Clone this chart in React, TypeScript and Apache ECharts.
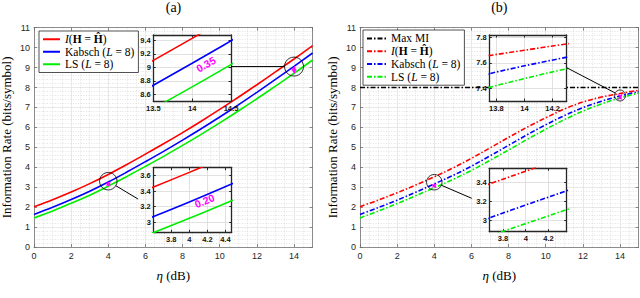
import { useEffect, useRef } from 'react';
import * as echarts from 'echarts';

// ---------- data ----------
const snrDb = [0, 1, 2, 3, 4, 5, 6, 7, 8, 9, 10, 11, 12, 13, 14, 15];

// (a)
const idealA = [2.02, 2.37, 2.755, 3.18, 3.64, 4.14, 4.66, 5.19, 5.74, 6.31, 6.9, 7.51, 8.14, 8.78, 9.43, 10.1];
const kabschA = [1.63, 1.99, 2.38, 2.8, 3.26, 3.76, 4.28, 4.81, 5.36, 5.93, 6.52, 7.13, 7.76, 8.41, 9.06, 9.73];
const lsA = [1.46, 1.81, 2.19, 2.6, 3.05, 3.54, 4.045, 4.56, 5.095, 5.65, 6.225, 6.82, 7.435, 8.07, 8.71, 9.38];

// (b)
const idealB = [2.02, 2.36, 2.72, 3.11, 3.52, 3.96, 4.45, 4.97, 5.5, 6.01, 6.48, 6.92, 7.27, 7.52, 7.7, 7.86];
const kabschB = [1.63, 1.98, 2.35, 2.745, 3.165, 3.585, 4.055, 4.57, 5.1, 5.63, 6.13, 6.59, 6.99, 7.31, 7.577, 7.79];
const lsB = [1.46, 1.81, 2.18, 2.57, 2.97, 3.385, 3.845, 4.345, 4.865, 5.395, 5.905, 6.385, 6.815, 7.175, 7.477, 7.72];
const maxMI = 8;

// annotations
const gapIdx = [4, 14]; // indexes into snrDb where the gap arrows are drawn
const gapLabelsA = ['0.20', '0.35'];
const gapLabelPosA = [[4.17, 3.27], [14.18, 9.04]];
const gapLabelRot = [22, 30];
const zoomCentersA = [[4, 3.3], [14, 9.05]];
const zoomCentersB = [[4, 3.25], [14, 7.6]];

// ---------- styles / layout ----------
const SANS = '"Liberation Sans", Arial, Helvetica, sans-serif';
const SERIF = '"Liberation Serif", "Times New Roman", serif';
const RED = '#ff0000';
const BLUE = '#0000ff';
const GREEN = '#00ee00';
const MAG = '#ff00ff';
const DASHDOT = [5, 2, 1.5, 2];

const grids = [
  { left: 34, top: 27.7, width: 278.6, height: 219.3 }, // main a
  { left: 360, top: 27.7, width: 278.6, height: 219.3 }, // main b
  { left: 153.3, top: 35, width: 77.7, height: 66 }, // inset a top
  { left: 153.3, top: 167.7, width: 78.4, height: 64.6 }, // inset a bottom
  { left: 489.3, top: 35, width: 77.4, height: 66 }, // inset b top
  { left: 489.3, top: 168.3, width: 77.4, height: 63.4 }, // inset b bottom
];

type AxisSpec = {
  min: number;
  max: number;
  interval?: number;
  splitNumber?: number;
  showMin: boolean;
  showMax: boolean;
  minor?: number;
};

const xSpecs: AxisSpec[] = [
  { min: 0, max: 15, interval: 2, showMin: true, showMax: false, minor: 4 },
  { min: 0, max: 15, interval: 2, showMin: true, showMax: false, minor: 4 },
  { min: 13.5, max: 14.5, interval: 0.5, showMin: true, showMax: true },
  { min: 3.6, max: 4.47, splitNumber: 5, showMin: false, showMax: false },
  { min: 13.75, max: 14.3, splitNumber: 3, showMin: false, showMax: false },
  { min: 3.68, max: 4.36, splitNumber: 3, showMin: false, showMax: false },
];
const ySpecs: AxisSpec[] = [
  { min: 0, max: 11, interval: 1, showMin: true, showMax: true, minor: 5 },
  { min: 0, max: 11, interval: 1, showMin: true, showMax: true, minor: 5 },
  { min: 8.5, max: 9.48, splitNumber: 5, showMin: false, showMax: false },
  { min: 2.87, max: 3.7, splitNumber: 4, showMin: false, showMax: false },
  { min: 7.3, max: 7.82, splitNumber: 3, showMin: false, showMax: false },
  { min: 2.885, max: 3.55, splitNumber: 3, showMin: false, showMax: false },
];

function axisPair(dim: 'x' | 'y', gi: number, s: AxisSpec, main: boolean, name?: any) {
  const boxColor = main ? '#6e6e6e' : '#262626';
  const common: any = {
    type: 'value',
    gridIndex: gi,
    min: s.min,
    max: s.max,
    interval: s.interval,
    splitNumber: s.splitNumber,
    silent: true,
    z: main ? 1 : 11,
    axisLine: { show: true, onZero: false, lineStyle: { color: boxColor, width: main ? 0.8 : 1.3 } },
    axisTick: { show: true, inside: true, length: main ? 3 : 2.5, lineStyle: { color: boxColor, width: main ? 0.8 : 1 } },
    axisPointer: { show: false },
  };
  const primary: any = {
    ...common,
    position: dim === 'x' ? 'bottom' : 'left',
    axisLabel: {
      show: true,
      margin: main ? 4 : dim === 'x' ? 3 : 2.5,
      fontFamily: SANS,
      fontSize: main ? 9 : 7.5,
      fontWeight: main ? 'normal' : 'bold',
      color: main ? '#262626' : '#111',
      showMinLabel: s.showMin,
      showMaxLabel: s.showMax,
    },
    splitLine: {
      show: true,
      showMinLine: false,
      showMaxLine: false,
      lineStyle: { color: main ? '#e2e2e2' : '#d9d9d9', width: 0.8 },
    },
    minorTick: { show: false, splitNumber: s.minor ?? 5 },
    minorSplitLine: { show: main && !!s.minor, lineStyle: { color: '#cfcfcf', width: 0.6, type: [1, 1.6] } },
  };
  if (name) Object.assign(primary, name);
  const mirror: any = {
    ...common,
    z: main ? 1 : 12,
    position: dim === 'x' ? 'top' : 'right',
    axisLabel: { show: false },
    splitLine: { show: false },
  };
  return [primary, mirror];
}

const xName = {
  name: '{i|η} (dB)',
  nameLocation: 'middle',
  nameGap: 22,
  nameTextStyle: {
    fontFamily: SERIF,
    fontSize: 13,
    color: '#000',
    rich: { i: { fontFamily: SERIF, fontSize: 13, fontStyle: 'italic', color: '#000' } },
  },
};
const yName = {
  name: 'Information Rate (bits/symbol)',
  nameLocation: 'middle',
  nameGap: 21,
  nameTextStyle: { fontFamily: SERIF, fontSize: 13, color: '#000' },
};

const pts = (ys: number[]) => snrDb.map((x, i) => [x, ys[i]]);

function curve(name: string, gi: number, ys: number[], color: string, dashed: boolean, z: number, extra: any = {}) {
  return {
    name,
    type: 'line',
    xAxisIndex: gi * 2,
    yAxisIndex: gi * 2,
    data: pts(ys),
    smooth: 0.35,
    symbol: 'none',
    showSymbol: false,
    clip: true,
    silent: true,
    z,
    emphasis: { disabled: true },
    itemStyle: { color },
    lineStyle: { color, width: 1.6, type: dashed ? DASHDOT : 'solid' },
    ...extra,
  };
}

function gapArrow(x: number, top: number, bottom: number, dashed: boolean, small: boolean) {
  return {
    silent: true,
    symbol: ['arrow', 'arrow'],
    symbolSize: small ? [4, 4] : [6, 7],
    label: { show: false },
    emphasis: { disabled: true },
    lineStyle: { color: MAG, width: small ? 1.4 : 1.6, type: dashed ? [2.5, 1.5] : 'solid', opacity: 1 },
    data: [[{ coord: [x, top] }, { coord: [x, bottom] }]],
  };
}

const legendText: Record<string, string> = {
  a_ideal: '{i|I}{n|(}{b|H}{n| = }{b|Ĥ}{n|)}',
  a_kabsch: '{n|Kabsch (}{i|L}{n| = 8)}',
  a_ls: '{n|LS (}{i|L}{n| = 8)}',
  b_max: '{n|Max MI}',
  b_ideal: '{i|I}{n|(}{b|H}{n| = }{b|Ĥ}{n|)}',
  b_kabsch: '{n|Kabsch (}{i|L}{n| = 8)}',
  b_ls: '{n|LS (}{i|L}{n| = 8)}',
};

function legendRich(lh: number) {
  const base = { fontFamily: SERIF, fontSize: 11.5, color: '#000', lineHeight: lh };
  return {
    n: { ...base },
    i: { ...base, fontStyle: 'italic' },
    b: { ...base, fontWeight: 'bold' },
  };
}

function legendBase(lh: number) {
  return {
    orient: 'vertical',
    itemHeight: 10,
    itemGap: 0,
    padding: [2, 4, 2, 3],
    backgroundColor: '#fff',
    borderColor: '#262626',
    borderWidth: 0.8,
    selectedMode: false,
    z: 20,
    itemStyle: { opacity: 0 },
    formatter: (n: string) => legendText[n],
    textStyle: { fontFamily: SERIF, fontSize: 11.5, color: '#000', lineHeight: lh, rich: legendRich(lh) },
  };
}

function buildOption(): any {
  const xAxis: any[] = [];
  const yAxis: any[] = [];
  for (let g = 0; g < 6; g++) {
    const main = g < 2;
    xAxis.push(...axisPair('x', g, xSpecs[g], main, main ? xName : undefined));
    yAxis.push(...axisPair('y', g, ySpecs[g], main, main ? yName : undefined));
  }

  const series: any[] = [];
  series.push(curve('a_ideal', 0, idealA, RED, false, 3));
  series.push(
    curve('a_kabsch', 0, kabschA, BLUE, false, 3, {
      markLine: gapArrow(snrDb[gapIdx[0]], kabschA[gapIdx[0]], lsA[gapIdx[0]], false, true),
    })
  );
  series.push(
    curve('a_ls', 0, lsA, GREEN, false, 3, {
      markLine: gapArrow(snrDb[gapIdx[1]], kabschA[gapIdx[1]], lsA[gapIdx[1]], false, true),
    })
  );
  series.push({
    name: 'b_max',
    type: 'line',
    xAxisIndex: 2,
    yAxisIndex: 2,
    data: [
      [snrDb[0], maxMI],
      [snrDb[snrDb.length - 1], maxMI],
    ],
    symbol: 'none',
    silent: true,
    z: 3,
    itemStyle: { color: '#000' },
    lineStyle: { color: '#000', width: 1.3, type: DASHDOT },
  });
  series.push(curve('b_ideal', 1, idealB, RED, true, 3));
  series.push(
    curve('b_kabsch', 1, kabschB, BLUE, true, 3, {
      markLine: gapArrow(snrDb[gapIdx[0]], kabschB[gapIdx[0]], lsB[gapIdx[0]], true, true),
    })
  );
  series.push(
    curve('b_ls', 1, lsB, GREEN, true, 3, {
      markLine: gapArrow(snrDb[gapIdx[1]], kabschB[gapIdx[1]], lsB[gapIdx[1]], true, true),
    })
  );

  const insetDefs = [
    { g: 2, sets: [idealA, kabschA, lsA], dashed: false, gi: 1 },
    { g: 3, sets: [idealA, kabschA, lsA], dashed: false, gi: 0 },
    { g: 4, sets: [idealB, kabschB, lsB], dashed: true, gi: 1 },
    { g: 5, sets: [idealB, kabschB, lsB], dashed: true, gi: 0 },
  ];
  insetDefs.forEach((d) => {
    const [ide, kab, ls] = d.sets;
    const k = gapIdx[d.gi];
    series.push(curve('inset' + d.g + '_ideal', d.g, ide, RED, d.dashed, 13));
    series.push(
      curve('inset' + d.g + '_kabsch', d.g, kab, BLUE, d.dashed, 13, {
        markLine: gapArrow(snrDb[k], kab[k], ls[k], d.dashed, false),
      })
    );
    series.push(curve('inset' + d.g + '_ls', d.g, ls, GREEN, d.dashed, 13));
  });

  const circleSizes = [[17.5, 19], [15.5, 11]];
  [zoomCentersA, zoomCentersB].forEach((centers, p) => {
    series.push({
      type: 'scatter',
      xAxisIndex: p * 2,
      yAxisIndex: p * 2,
      silent: true,
      z: 6,
      symbol: 'circle',
      data: centers.map((c, i) => ({ value: c, symbolSize: circleSizes[p][i] })),
      itemStyle: { color: 'rgba(0,0,0,0)', borderColor: '#000', borderWidth: 1 },
    });
  });

  return {
    animation: false,
    backgroundColor: '#fff',
    title: [
      { text: '(a)', left: 173.5, top: 0, textAlign: 'center', padding: 0, textStyle: { fontFamily: SERIF, fontSize: 14, fontWeight: 'normal', color: '#000' } },
      { text: '(b)', left: 499.3, top: 0, textAlign: 'center', padding: 0, textStyle: { fontFamily: SERIF, fontSize: 14, fontWeight: 'normal', color: '#000' } },
    ],
    grid: grids.map((r, i) => ({
      ...r,
      containLabel: false,
      outerBoundsMode: 'none',
      show: i >= 2,
      backgroundColor: '#fff',
      borderWidth: 0,
      z: i >= 2 ? 10 : 0,
    })),
    legend: [
      { ...legendBase(12.5), left: 39, top: 31, itemWidth: 17, data: ['a_ideal', 'a_kabsch', 'a_ls'] },
      { ...legendBase(12.8), left: 363, top: 30, itemWidth: 19, data: ['b_max', 'b_ideal', 'b_kabsch', 'b_ls'] },
    ],
    xAxis,
    yAxis,
    series,
  };
}

export default function App() {
  const ref = useRef<HTMLDivElement>(null);
  useEffect(() => {
    if (!ref.current) return;
    const chart = echarts.init(ref.current, null, { renderer: 'svg' });
    chart.setOption(buildOption());

    const toPx = (g: number, c: number[]) =>
      chart.convertToPixel({ xAxisIndex: g * 2, yAxisIndex: g * 2 } as any, c) as unknown as number[];

    const cA0 = toPx(0, zoomCentersA[0]);
    const cA1 = toPx(0, zoomCentersA[1]);
    const cB0 = toPx(1, zoomCentersB[0]);
    const cB1 = toPx(1, zoomCentersB[1]);
    const edge = (c: number[], target: number[], r: number) => {
      const dx = target[0] - c[0];
      const dy = target[1] - c[1];
      const d = Math.hypot(dx, dy) || 1;
      return [c[0] + (dx / d) * r, c[1] + (dy / d) * r];
    };
    const gAT = grids[2];
    const gBT = grids[4];
    const anchors = [
      { c: cA1, r: 9.5, t: [gAT.left + gAT.width, cA1[1]] },
      { c: cA0, r: 8.7, t: [138, 199] },
      { c: cB1, r: 5.5, t: [gBT.left + gBT.width, gBT.top + 32.7] },
      { c: cB0, r: 7.8, t: [471.7, 198.3] },
    ];
    const lines = anchors.map((a) => {
      const e = edge(a.c, a.t, a.r);
      return {
        type: 'line',
        silent: true,
        z: 15,
        shape: { x1: a.t[0], y1: a.t[1], x2: e[0], y2: e[1] },
        style: { stroke: '#000', lineWidth: 1 },
      };
    });

    const labelGrids = [3, 2];
    const labels = labelGrids.map((g, j) => {
      const p = toPx(g, gapLabelPosA[j]);
      return {
        type: 'text',
        silent: true,
        z: 30,
        x: p[0],
        y: p[1],
        rotation: (gapLabelRot[j] * Math.PI) / 180,
        style: {
          text: gapLabelsA[j],
          fill: MAG,
          fontFamily: SANS,
          fontWeight: 'bold',
          fontSize: 10.5,
          align: 'center',
          verticalAlign: 'middle',
        },
      };
    });

    chart.setOption({ graphic: { elements: [...lines, ...labels] } });
    return () => chart.dispose();
  }, []);
  return <div ref={ref} style={{ position: 'absolute', left: 0, top: 0, width: 640, height: 298 }} />;
}
